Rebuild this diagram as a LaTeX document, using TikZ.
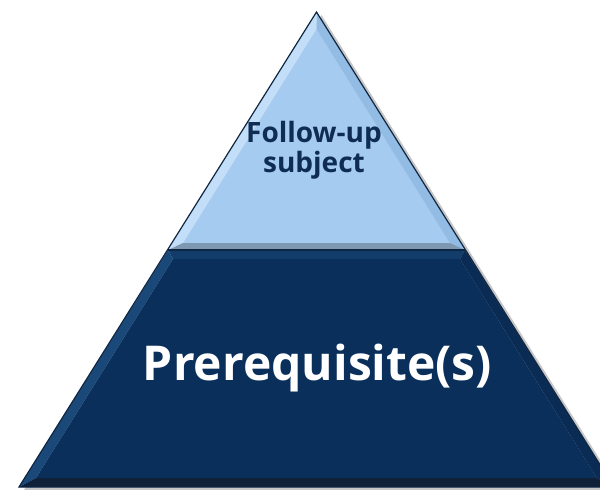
\documentclass[tikz,border=0pt]{standalone}
\usepackage{fontspec}
\setmainfont{Open Sans}
\usetikzlibrary{positioning}
\definecolor{skyface}{HTML}{A5CCF0}
\definecolor{skylight}{HTML}{C3DEF8}
\definecolor{skymid}{HTML}{93BCE4}
\definecolor{skyfoot}{HTML}{7E98B2}
\definecolor{navyface}{HTML}{0A2F5B}
\definecolor{navylight}{HTML}{1A4878}
\definecolor{navytop}{HTML}{123D6B}
\definecolor{navyright}{HTML}{0A2B53}
\definecolor{navyfoot}{HTML}{0E2138}
\definecolor{rim}{HTML}{0F2643}
\definecolor{labelnavy}{HTML}{0F2D52}
\tikzset{facet/.style={draw=none},
label top/.style={font=\bfseries\fontsize{28}{30}\selectfont, text=labelnavy, align=center},
label base/.style={font=\bfseries\fontsize{48}{56}\selectfont, text=white}
}

\begin{document}
\begin{tikzpicture}[x=1pt, y=-1pt]
    \useasboundingbox (0,0) rectangle (600,490);
    \clip (0,0) rectangle (600,490);
    % outer corners and divider
    \coordinate (apex) at (316.5,12);
    \coordinate (dl)   at (168,250);
    \coordinate (dr)   at (465,250);
    \coordinate (bl)   at (19,487);
    \coordinate (br)   at (614,487);
    % inner corners of the bevel
    \coordinate (iapex) at (316.5,29);
    \coordinate (idl)   at (183,243);
    \coordinate (idr)   at (450,243);
    \coordinate (jdl)   at (173,259);
    \coordinate (jdr)   at (460,259);
    \coordinate (jbl)   at (36,478);
    \coordinate (jbr)   at (597,478);

    % shadow
    \fill[black, opacity=.22] ([shift={(5,3)}]apex) -- ([shift={(5,3)}]br) -- ([shift={(5,3)}]bl) -- cycle;

    % top part
    \fill[skyface]  (iapex) -- (idl) -- (idr) -- cycle;
    \fill[skylight] (apex) -- (dl) -- (idl) -- (iapex) -- cycle;
    \fill[skymid]   (apex) -- (iapex) -- (idr) -- (dr) -- cycle;
    \fill[skyfoot]  (dl) -- (dr) -- (idr) -- (idl) -- cycle;

    % base part
    \fill[navyface]  (jdl) -- (jdr) -- (jbr) -- (jbl) -- cycle;
    \fill[navytop]   (dl) -- (dr) -- (jdr) -- (jdl) -- cycle;
    \fill[navylight] (dl) -- (jdl) -- (jbl) -- (bl) -- cycle;
    \fill[navyright] (dr) -- (br) -- (jbr) -- (jdr) -- cycle;
    \fill[navyfoot]  (bl) -- (jbl) -- (jbr) -- (br) -- cycle;

    % rims
    \draw[rim, line width=1.2pt] (apex) -- (br) -- (bl) -- cycle;
    \draw[rim, line width=1.5pt] (dl) -- (dr);

    \node[label top]  (follow) at (314,150) {Follow-up\\subject};
    \node[label base] (prereq) at (317.5,368) {Prerequisite(s)};
\end{tikzpicture}
\end{document}
